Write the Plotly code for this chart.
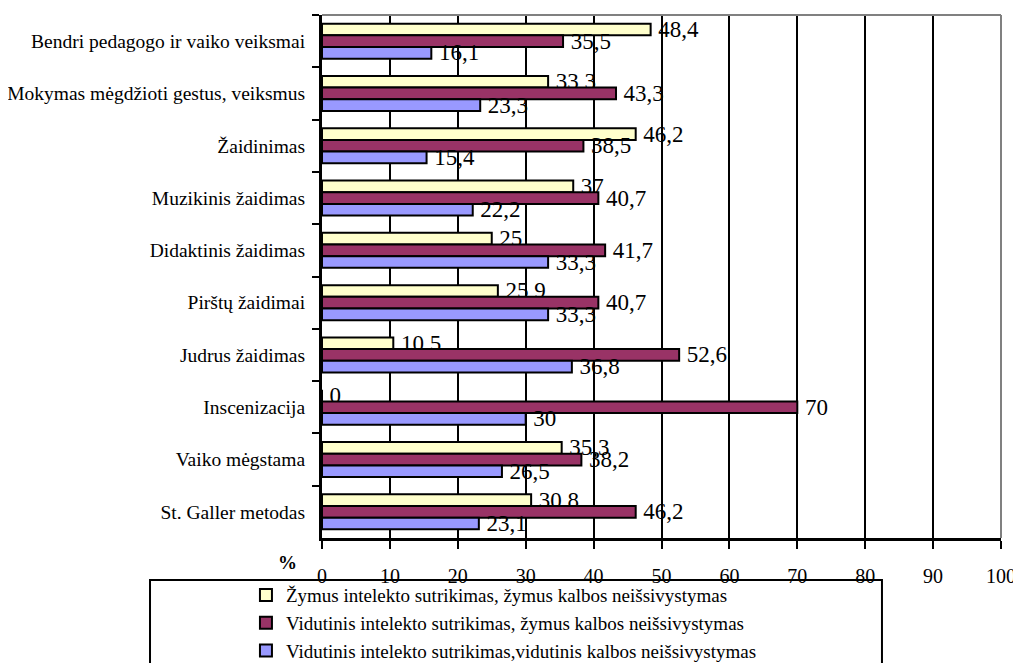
import plotly.graph_objects as go

# categories, top to bottom as in the chart
categories = [
    'Bendri pedagogo ir vaiko veiksmai',
    'Mokymas mėgdžioti gestus, veiksmus',
    'Žaidinimas',
    'Muzikinis žaidimas',
    'Didaktinis žaidimas',
    'Pirštų žaidimai',
    'Judrus žaidimas',
    'Inscenizacija',
    'Vaiko mėgstama',
    'St. Galler metodas',
]

series_names = [
    'Žymus intelekto sutrikimas, žymus kalbos neišsivystymas',
    'Vidutinis intelekto sutrikimas, žymus kalbos neišsivystymas',
    'Vidutinis intelekto sutrikimas,vidutinis kalbos neišsivystymas',
]

zymus_zymus = [48.4, 33.3, 46.2, 37, 25, 25.9, 10.5, 0, 35.3, 30.8]
vid_zymus = [35.5, 43.3, 38.5, 40.7, 41.7, 40.7, 52.6, 70, 38.2, 46.2]
vid_vid = [16.1, 23.3, 15.4, 22.2, 33.3, 33.3, 36.8, 30, 26.5, 23.1]

colors = ['#FFFFCC', '#993366', '#9999FF']
FONT = 'Liberation Serif, Times New Roman, serif'


def fmt(v):
    # comma decimals, small gap before the label like the original
    return '\u2009' + f'{v:g}'.replace('.', ',')


fig = go.Figure()
for name, vals, col in zip(series_names, [zymus_zymus, vid_zymus, vid_vid], colors):
    fig.add_trace(go.Bar(
        y=categories,
        x=vals,
        name=name,
        orientation='h',
        marker=dict(color=col, line=dict(color='black', width=2)),
        text=[fmt(v) for v in vals],
        textposition='outside',
        constraintext='none',
        cliponaxis=False,
        textfont=dict(family=FONT, size=23, color='black'),
    ))

# page body has an 8px margin, so the figure is 8px smaller
fig.update_layout(
    width=1013, height=655,
    margin=dict(l=314, r=20, t=7, b=125, autoexpand=False),
    plot_bgcolor='white', paper_bgcolor='white',
    font=dict(family=FONT, color='black'),
    barmode='group', bargap=0.33, bargroupgap=0,
    showlegend=True,
    legend=dict(
        x=-0.112, y=-0.073, xanchor='left', yanchor='top',
        font=dict(family=FONT, size=19, color='black'),
        bgcolor='rgba(0,0,0,0)', borderwidth=0,
        traceorder='normal',
    ),
)

fig.update_xaxes(
    range=[0, 100], dtick=10, tick0=0,
    showgrid=True, gridcolor='black', gridwidth=2,
    zeroline=False,
    showline=True, linecolor='black', linewidth=3,
    ticks='outside', ticklen=8, tickwidth=2, tickcolor='black',
    ticklabelstandoff=10,
    tickfont=dict(family=FONT, size=20, color='black'),
)
fig.update_yaxes(
    autorange='reversed',
    showgrid=False,
    showline=True, linecolor='black', linewidth=3,
    ticks='outside', tickson='boundaries', ticklen=7, tickwidth=2, tickcolor='black',
    ticklabelstandoff=10,
    tickfont=dict(family=FONT, size=19.5, color='black'),
)

# gray frame on the top and right, legend box
fig.add_shape(type='line', xref='paper', yref='paper', x0=0, x1=1, y0=1, y1=1,
              line=dict(color='#808080', width=2), layer='above')
fig.add_shape(type='line', xref='paper', yref='paper', x0=1, x1=1, y0=0, y1=1,
              line=dict(color='#808080', width=2), layer='above')
fig.add_shape(type='rect', xref='paper', yref='paper', x0=-0.2533, x1=0.8247, y0=-0.0803, y1=-0.3,
              line=dict(color='black', width=2), layer='above')

fig.add_annotation(text='<b>%</b>', xref='paper', yref='paper', x=-0.068, y=-0.071,
                   showarrow=False, font=dict(family=FONT, size=19, color='black'))

fig.write_html('out.html')
